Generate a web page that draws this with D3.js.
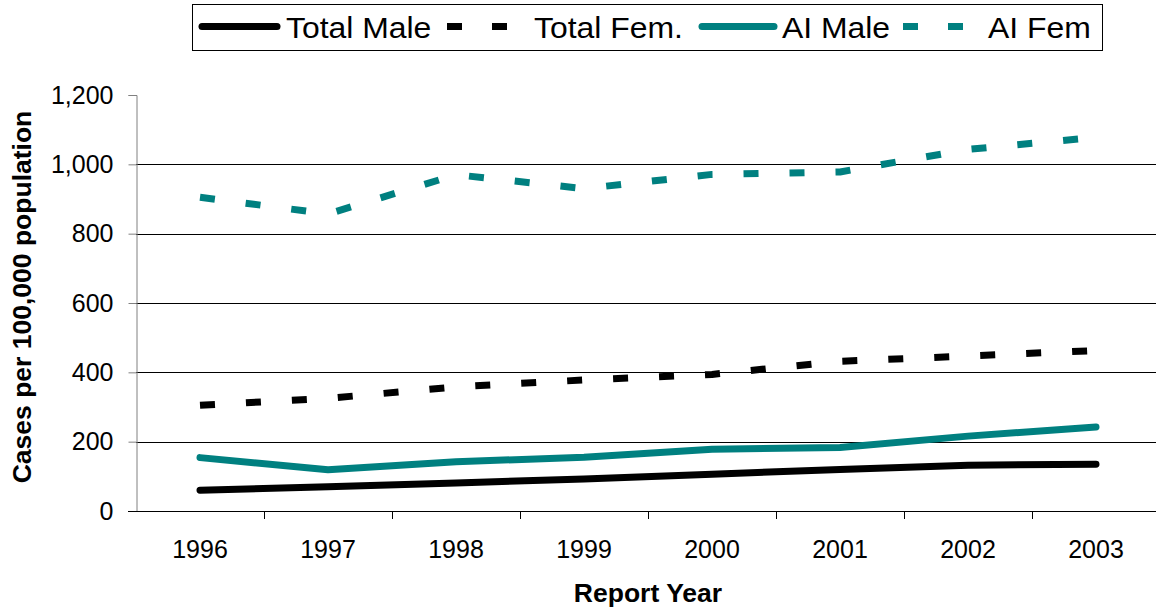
<!DOCTYPE html>
<html>
<head>
<meta charset="utf-8">
<script src="https://cdn.jsdelivr.net/npm/d3@7"></script>
<style>
  html, body { margin: 0; padding: 0; background: #fff; }
  svg { display: block; font-family: "Liberation Sans", Arial, sans-serif; }
</style>
</head>
<body>
<svg id="chart" width="1156" height="611"></svg>
<script>
const years = ["1996", "1997", "1998", "1999", "2000", "2001", "2002", "2003"];
const totalMale = [60, 70, 81, 92, 106, 120, 132, 135];
const totalFem = [305, 325, 358, 378, 394, 432, 447, 463];
const aiMale = [154, 119, 142, 155, 178, 183, 216, 242];
const aiFem = [905, 857, 970, 930, 971, 978, 1043, 1078];
const yTicks = [0, 200, 400, 600, 800, 1000, 1200];

const series = [
  { name: "Total Male", values: totalMale, color: "#000000", dashed: false },
  { name: "Total Fem.", values: totalFem, color: "#000000", dashed: true },
  { name: "AI Male", values: aiMale, color: "#008080", dashed: false },
  { name: "AI Fem", values: aiFem, color: "#008080", dashed: true }
];

const svg = d3.select("#chart");
const plotL = 136, plotR = 1160, plotT = 95, plotB = 511;

const x = d3.scaleBand().domain(years).range([plotL, plotR]).padding(0);
const y = d3.scaleLinear().domain([0, 1200]).range([plotB, plotT]);

// gridlines
svg.append("g").selectAll("line")
  .data(yTicks.filter(d => d > 0 && d < 1200))
  .join("line")
  .attr("x1", plotL).attr("x2", 1156)
  .attr("y1", d => Math.round(y(d)) + 0.5).attr("y2", d => Math.round(y(d)) + 0.5)
  .attr("stroke", "#000").attr("stroke-width", 1);

// y axis
const yAxis = svg.append("g")
  .attr("transform", `translate(${plotL + 0.5},0)`)
  .call(d3.axisLeft(y).tickValues(yTicks).tickSize(8).tickPadding(15)
    .tickFormat(d3.format(",")));
yAxis.select(".domain").attr("stroke", "#808080");
yAxis.selectAll(".tick line").attr("stroke", "#808080");
yAxis.selectAll("text").attr("font-size", 25).attr("fill", "#000")
  .attr("font-family", "'Liberation Sans', Arial, sans-serif");

// x axis
const xAxis = svg.append("g")
  .attr("transform", `translate(0,${plotB + 0.5})`)
  .call(d3.axisBottom(x).tickSize(0).tickPadding(29));
xAxis.select(".domain").attr("stroke", "#000").attr("d", `M${plotL - 8},0H1156`);
xAxis.selectAll("text").attr("font-size", 25).attr("fill", "#000")
  .attr("font-family", "'Liberation Sans', Arial, sans-serif");
// category boundary ticks
svg.append("g").selectAll("line")
  .data(years.slice(1))
  .join("line")
  .attr("x1", d => Math.round(x(d)) + 0.5).attr("x2", d => Math.round(x(d)) + 0.5)
  .attr("y1", plotB).attr("y2", plotB + 8)
  .attr("stroke", "#000");

// lines
const line = d3.line()
  .x((d, i) => x(years[i]) + x.bandwidth() / 2)
  .y(d => y(d));

svg.append("g").selectAll("path")
  .data(series)
  .join("path")
  .attr("d", d => line(d.values))
  .attr("fill", "none")
  .attr("stroke", d => d.color)
  .attr("stroke-width", 7)
  .attr("stroke-linecap", d => d.dashed ? "butt" : "round")
  .attr("stroke-linejoin", "round")
  .attr("stroke-dasharray", d => d.dashed ? "15,31" : null);

// axis titles
svg.append("text")
  .attr("transform", `translate(31,${(plotT + plotB) / 2 - 6}) rotate(-90)`)
  .attr("text-anchor", "middle")
  .attr("font-size", 26.5).attr("font-weight", "bold")
  .text("Cases per 100,000 population");

svg.append("text")
  .attr("x", (plotL + plotR) / 2).attr("y", 602)
  .attr("text-anchor", "middle")
  .attr("font-size", 26.5).attr("font-weight", "bold")
  .text("Report Year");

// legend
const legend = svg.append("g");
legend.append("rect")
  .attr("x", 192.5).attr("y", 4.5).attr("width", 910).attr("height", 46)
  .attr("fill", "#fff").attr("stroke", "#000").attr("stroke-width", 1);

const legendItems = [
  { s: series[0], x1: 202, x2: 277, tx: 286 },
  { s: series[1], x1: 447, x2: 508, tx: 534 },
  { s: series[2], x1: 702, x2: 774, tx: 782 },
  { s: series[3], x1: 903, x2: 966, tx: 988 }
];
const li = legend.selectAll("g.item").data(legendItems).join("g").attr("class", "item");
li.append("line")
  .attr("x1", d => d.x1).attr("x2", d => d.x2)
  .attr("y1", 26.5).attr("y2", 26.5)
  .attr("stroke", d => d.s.color)
  .attr("stroke-width", 7)
  .attr("stroke-linecap", d => d.s.dashed ? "butt" : "round")
  .attr("stroke-dasharray", d => d.s.dashed ? "15,30" : null);
li.append("text")
  .attr("transform", d => `translate(${d.tx},37.5) scale(1.1,1)`)
  .attr("font-size", 29)
  .attr("fill", "#000")
  .text(d => d.s.name);
</script>
</body>
</html>
